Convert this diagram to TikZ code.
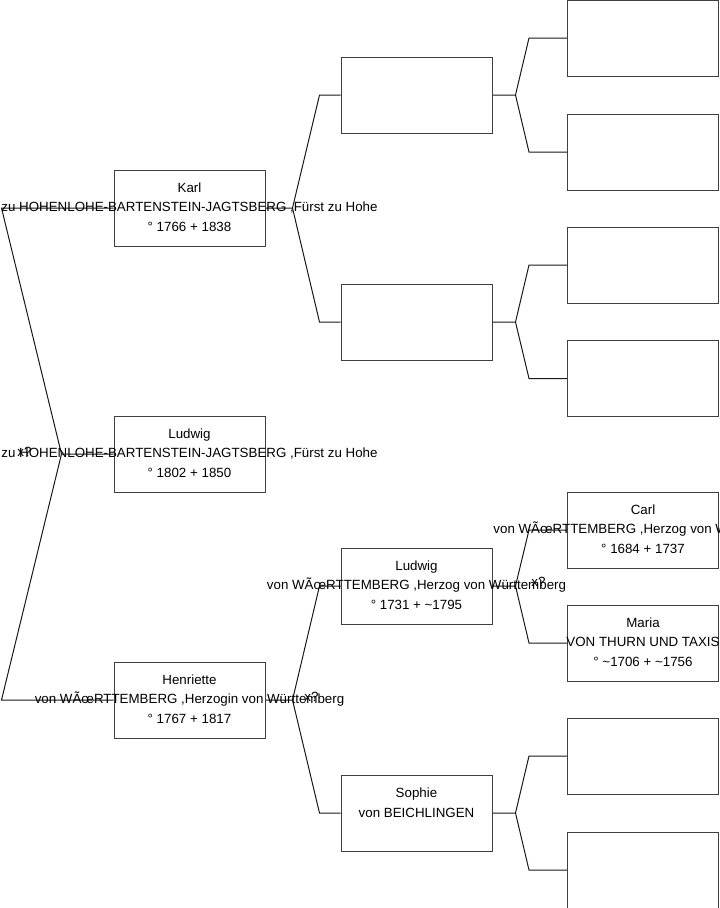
\documentclass[tikz,border=0pt]{standalone}
\usepackage{fontspec}
\setmainfont{Liberation Sans}
\usetikzlibrary{calc}
\tikzset{
  personbox/.style={draw=black!75,line width=.75pt,minimum width=113.25pt,minimum height=57pt,inner sep=0pt},
  persontext/.style={align=center,inner sep=0pt,yshift=.6pt,font=\fontsize{10pt}{14.8pt}\selectfont},
  wedlock/.style={inner sep=0pt,font=\fontsize{10pt}{12pt}\selectfont},
  branch/.style={draw=black!90,line width=.75pt}
}

\begin{document}
\begin{tikzpicture}[x=.75pt,y=-.75pt]
  \useasboundingbox (0,0) rectangle (719,908);

  % boxes, generation by generation
  \node[personbox] (p1) at (189.5,454) {};
  \node[personbox] (p2) at (189.5,208) {};
  \node[personbox] (p3) at (189.5,700) {};
  \node[personbox] (p4) at (416.5,95) {};
  \node[personbox] (p5) at (416.5,322) {};
  \node[personbox] (p6) at (416.5,586) {};
  \node[personbox] (p7) at (416.5,813) {};
  \node[personbox] (p8) at (643,38) {};
  \node[personbox] (p9) at (643,152) {};
  \node[personbox] (p10) at (643,265) {};
  \node[personbox] (p11) at (643,378.5) {};
  \node[personbox] (p12) at (643,530) {};
  \node[personbox] (p13) at (643,643) {};
  \node[personbox] (p14) at (643,756) {};
  \node[personbox] (p15) at (643,870) {};

  % forks
  \coordinate (f1) at ($(p1.west)+(-52,0)$);
  \coordinate (f2) at ($(p2.east)+(27,0)$);
  \coordinate (f3) at ($(p3.east)+(27,0)$);
  \coordinate (f4) at ($(p4.east)+(23,0)$);
  \coordinate (f5) at ($(p5.east)+(23,0)$);
  \coordinate (f6) at ($(p6.east)+(23,0)$);
  \coordinate (f7) at ($(p7.east)+(23,0)$);

  \draw[branch] (p1.west) -- (f1) -- ($(p2.west)+(-112,0)$) -- (p2.west);
  \draw[branch] (f1) -- ($(p3.west)+(-112,0)$) -- (p3.west);
  \draw[branch] (p2.east) -- (f2) -- ($(p4.west)+(-21,0)$) -- (p4.west);
  \draw[branch] (f2) -- ($(p5.west)+(-21,0)$) -- (p5.west);
  \draw[branch] (p3.east) -- (f3) -- ($(p6.west)+(-21,0)$) -- (p6.west);
  \draw[branch] (f3) -- ($(p7.west)+(-21,0)$) -- (p7.west);
  \draw[branch] (p4.east) -- (f4) -- ($(p8.west)+(-38,0)$) -- (p8.west);
  \draw[branch] (f4) -- ($(p9.west)+(-38,0)$) -- (p9.west);
  \draw[branch] (p5.east) -- (f5) -- ($(p10.west)+(-38,0)$) -- (p10.west);
  \draw[branch] (f5) -- ($(p11.west)+(-38,0)$) -- (p11.west);
  \draw[branch] (p6.east) -- (f6) -- ($(p12.west)+(-38,0)$) -- (p12.west);
  \draw[branch] (f6) -- ($(p13.west)+(-38,0)$) -- (p13.west);
  \draw[branch] (p7.east) -- (f7) -- ($(p14.west)+(-38,0)$) -- (p14.west);
  \draw[branch] (f7) -- ($(p15.west)+(-38,0)$) -- (p15.west);

  % names
  \node[persontext] (t1) at (p1) {Ludwig\\zu HOHENLOHE-BARTENSTEIN-JAGTSBERG ,Fürst zu Hohe\\° 1802 + 1850};
  \node[persontext] (t2) at (p2) {Karl\\zu HOHENLOHE-BARTENSTEIN-JAGTSBERG ,Fürst zu Hohe\\° 1766 + 1838};
  \node[persontext] (t3) at (p3) {Henriette\\von WÃœRTTEMBERG ,Herzogin von Württemberg\\° 1767 + 1817};
  \node[persontext] (t6) at (p6) {Ludwig\\von WÃœRTTEMBERG ,Herzog von Württemberg\\° 1731 + \textasciitilde 1795};
  \node[persontext] (t7) at (p7) {Sophie\\von BEICHLINGEN\\\mbox{}};
  \node[persontext] (t12) at (p12) {Carl\\von WÃœRTTEMBERG ,Herzog von Württemberg\\° 1684 + 1737};
  \node[persontext] (t13) at (p13) {Maria\\VON THURN UND TAXIS\\° \textasciitilde 1706 + \textasciitilde 1756};

  \node[wedlock] (m1) at ($(f1)+(-37,-2)$) {x?};
  \node[wedlock] (m3) at ($(f3)+(19,-3)$) {x?};
  \node[wedlock] (m6) at ($(f6)+(23,-4)$) {x?};
\end{tikzpicture}
\end{document}
